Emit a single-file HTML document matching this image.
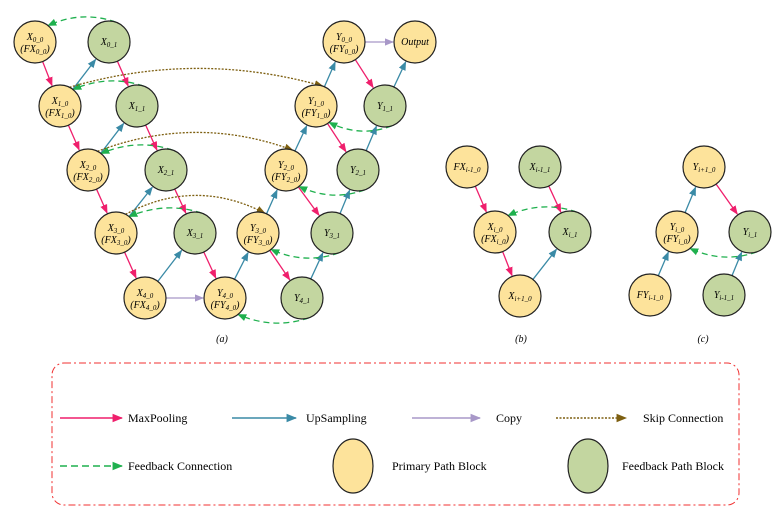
<!DOCTYPE html>
<html><head><meta charset="utf-8"><style>
body{margin:0;background:#fff}
svg{display:block}
text{font-family:"Liberation Serif",serif}
.n{font-style:italic;font-size:10px}
.s{font-size:7px}
.lg{font-size:12px}
</style></head><body>
<svg id="svg" width="781" height="519" viewBox="0 0 781 519" xmlns="http://www.w3.org/2000/svg">
<defs>
<marker id="m-mag" viewBox="0 0 10 10" refX="9" refY="5" markerWidth="7" markerHeight="7" orient="auto"><path d="M0,1L10,5L0,9z" fill="#ef1f6c"/></marker>
<marker id="m-teal" viewBox="0 0 10 10" refX="9" refY="5" markerWidth="7" markerHeight="7" orient="auto"><path d="M0,1L10,5L0,9z" fill="#3a8aa6"/></marker>
<marker id="m-pur" viewBox="0 0 10 10" refX="9" refY="5" markerWidth="7" markerHeight="7" orient="auto"><path d="M0,1L10,5L0,9z" fill="#a898c8"/></marker>
<marker id="m-ol" viewBox="0 0 10 10" refX="9" refY="5" markerWidth="7" markerHeight="7" orient="auto"><path d="M0,1L10,5L0,9z" fill="#7d5f10"/></marker>
<marker id="m-gr" viewBox="0 0 10 10" refX="9" refY="5" markerWidth="7" markerHeight="7" orient="auto"><path d="M0,1L10,5L0,9z" fill="#1fb04e"/></marker>
</defs>
<g id="edges"></g>
<g id="nodes"></g>
<text x="222" y="342" class="n" font-size="11" text-anchor="middle">(a)</text>
<text x="521" y="342" class="n" font-size="11" text-anchor="middle">(b)</text>
<text x="703" y="342" class="n" font-size="11" text-anchor="middle">(c)</text>
<g>
<rect x="52" y="363" width="687" height="142" rx="12" fill="none" stroke="#f03030" stroke-width="1" stroke-dasharray="7,3,2,3"/>
<line x1="60" y1="418" x2="122" y2="418" stroke="#ef1f6c" stroke-width="1.5" marker-end="url(#m-mag)"/>
<text x="128" y="422" class="lg">MaxPooling</text>
<line x1="232" y1="418" x2="296" y2="418" stroke="#3a8aa6" stroke-width="1.5" marker-end="url(#m-teal)"/>
<text x="306" y="422" class="lg">UpSampling</text>
<line x1="412" y1="418" x2="480" y2="418" stroke="#a898c8" stroke-width="1.5" marker-end="url(#m-pur)"/>
<text x="496" y="422" class="lg">Copy</text>
<line x1="556" y1="418" x2="626" y2="418" stroke="#7d5f10" stroke-width="1.5" stroke-dasharray="2,1.5" marker-end="url(#m-ol)"/>
<text x="643" y="422" class="lg">Skip Connection</text>
<line x1="60" y1="466" x2="122" y2="466" stroke="#1fb04e" stroke-width="1.5" stroke-dasharray="7,4" marker-end="url(#m-gr)"/>
<text x="128" y="470" class="lg">Feedback Connection</text>
<ellipse cx="353" cy="466" rx="20" ry="27" fill="#fde39b" stroke="#222" stroke-width="1.2"/>
<text x="392" y="470" class="lg">Primary Path Block</text>
<ellipse cx="588" cy="466" rx="20" ry="27" fill="#c3d6a0" stroke="#222" stroke-width="1.2"/>
<text x="622" y="470" class="lg">Feedback Path Block</text>
</g>
</svg>
<script>
const NS="http://www.w3.org/2000/svg";
const R=21;
// id: [x,y,type,letter,sub,twoLine]
const nodes={
X00:[35,42,'p','X','0_0',1],X01:[109,42,'f','X','0_1',0],
X10:[60,106,'p','X','1_0',1],X11:[137,106,'f','X','1_1',0],
X20:[88,170,'p','X','2_0',1],X21:[166,170,'f','X','2_1',0],
X30:[116,233,'p','X','3_0',1],X31:[195,233,'f','X','3_1',0],
X40:[145,298,'p','X','4_0',1],Y40:[225,298,'p','Y','4_0',1],Y41:[302,298,'f','Y','4_1',0],
Y30:[258,233,'p','Y','3_0',1],Y31:[332,233,'f','Y','3_1',0],
Y20:[286,170,'p','Y','2_0',1],Y21:[358,170,'f','Y','2_1',0],
Y10:[316,106,'p','Y','1_0',1],Y11:[385,106,'f','Y','1_1',0],
Y00:[344,42,'p','Y','0_0',1],OUT:[415,42,'p','Output','',0],
bF:[467,167,'p','FX','i-1_0',0],bX1:[540,167,'f','X','i-1_1',0],
bXi:[495,232,'p','X','i_0',1],bXi1:[570,232,'f','X','i_1',0],bN:[520,296,'p','X','i+1_0',0],
cY:[704,167,'p','Y','i+1_0',0],cYi:[677,232,'p','Y','i_0',1],cYi1:[750,232,'f','Y','i_1',0],
cF:[650,295,'p','FY','i-1_0',0],cYm:[724,295,'f','Y','i-1_1',0]
};
const mag=[['X00','X10'],['X10','X20'],['X20','X30'],['X30','X40'],['X01','X11'],['X11','X21'],['X21','X31'],['X31','Y40'],['Y00','Y11'],['Y10','Y21'],['Y20','Y31'],['Y30','Y41'],['bF','bXi'],['bX1','bXi1'],['bXi','bN'],['cY','cYi1']];
const teal=[['X10','X01'],['X20','X11'],['X30','X21'],['X40','X31'],['Y40','Y30'],['Y30','Y20'],['Y20','Y10'],['Y10','Y00'],['Y41','Y31'],['Y31','Y21'],['Y21','Y11'],['Y11','OUT'],['bN','bXi1'],['cF','cYi'],['cYi','cY'],['cYm','cYi1']];
const pur=[['X40','Y40'],['Y00','OUT']];
const fbUp=[['X01','X00'],['X11','X10'],['X21','X20'],['X31','X30'],['bXi1','bXi']];
const fbDown=[['Y11','Y10'],['Y21','Y20'],['Y31','Y30'],['Y41','Y40'],['cYi1','cYi']];
const skip=[['X10','Y10'],['X20','Y20'],['X30','Y30']];
const eg=document.getElementById('edges'),ng=document.getElementById('nodes');
function mk(t,a){const e=document.createElementNS(NS,t);for(const k in a)e.setAttribute(k,a[k]);return e;}
function straight(list,col,mark,name,extra){list.forEach(([a,b])=>{const A=nodes[a],B=nodes[b];const dx=B[0]-A[0],dy=B[1]-A[1],d=Math.hypot(dx,dy);
const l=mk('line',Object.assign({x1:A[0]+dx/d*R,y1:A[1]+dy/d*R,x2:B[0]-dx/d*(R+1),y2:B[1]-dy/d*(R+1),stroke:col,'stroke-width':1.3,'marker-end':'url(#'+mark+')'},extra||{}));


eg.appendChild(l);});}
straight(mag,'#ef1f6c','m-mag','maxpool-arrow');
straight(teal,'#3a8aa6','m-teal','upsample-arrow');
straight(pur,'#a898c8','m-pur','copy-arrow');
function arc(list,up,col,mark,name,dash,ang){list.forEach(([a,b])=>{const A=nodes[a],B=nodes[b];const s=up?-1:1;
const ax=A[0]+R*Math.cos(ang.a)*(B[0]>A[0]?1:-1),ay=A[1]+s*R*Math.sin(ang.a);
const bx=B[0]+R*Math.cos(ang.b)*(A[0]>B[0]?1:-1),by=B[1]+s*R*Math.sin(ang.b);
const mx=(ax+bx)/2,my=Math.min(ay,by)*(up?1:0)+Math.max(ay,by)*(up?0:1)+s*ang.h;
const p=mk('path',{d:`M${ax},${ay} Q${mx},${my} ${bx},${by}`,fill:'none',stroke:col,'stroke-width':1.3,'stroke-dasharray':dash,'marker-end':'url(#'+mark+')'});


eg.appendChild(p);});}
arc(fbUp,true,'#1fb04e','m-gr','feedback-arrow','6,4',{a:1.9,b:0.9,h:12});
arc(fbDown,false,'#1fb04e','m-gr','feedback-arrow','6,4',{a:1.9,b:0.9,h:12});
arc(skip,true,'#7d5f10','m-ol','skip-arrow','2,1.5',{a:1.1,b:1.9,h:36});
for(const id in nodes){const [x,y,t,L,S,two]=nodes[id];
const g=mk('g',{});


g.appendChild(mk('circle',{cx:x,cy:y,r:R,fill:t=='p'?'#fde39b':'#c3d6a0',stroke:'#222','stroke-width':1.2}));
function lab(yy,pre,post){const tx=mk('text',{x:x,y:yy,'text-anchor':'middle',class:'n'});
tx.appendChild(document.createTextNode(pre+L));
if(S){const ts=mk('tspan',{class:'s',dy:2});ts.textContent=S;tx.appendChild(ts);}
if(post){const tp=mk('tspan',{dy:-2});tp.textContent=post;tx.appendChild(tp);}
g.appendChild(tx);}
if(two){lab(y-2,'','');const tx2=mk('text',{x:x,y:y+10,'text-anchor':'middle',class:'n'});
tx2.appendChild(document.createTextNode('(F'+L));const ts=mk('tspan',{class:'s',dy:2});ts.textContent=S;tx2.appendChild(ts);const tp=mk('tspan',{dy:-2});tp.textContent=')';tx2.appendChild(tp);g.appendChild(tx2);}
else lab(y+3,'','');
ng.appendChild(g);}
</script>
</body></html>
